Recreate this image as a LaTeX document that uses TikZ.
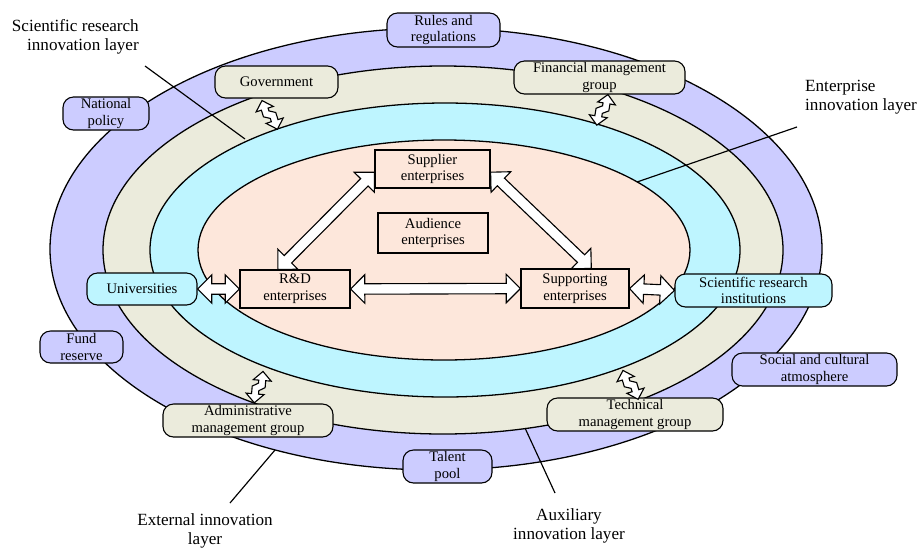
\documentclass[tikz,border=0pt]{standalone}
\usepackage{fontspec}
\setmainfont{Liberation Serif}
\usetikzlibrary{shapes.arrows,calc}

\definecolor{outerfill}{RGB}{204,204,255}
\definecolor{auxfill}{RGB}{235,235,220}
\definecolor{scifill}{RGB}{190,245,255}
\definecolor{entfill}{RGB}{253,231,219}

% block double arrow between two points
\newcommand{\blockarrow}[2]{%
  \path let \p1=($(#2)-(#1)$), \n1={atan2(\y1,\x1)}, \n2={veclen(\x1,\y1)}
    in node[dblarrow, minimum height=\n2, rotate=\n1] at ($(#1)!0.5!(#2)$) {};}

% zigzag double arrow, origin at the upper tip
\newcommand{\zigarrow}[3][]{%
  \begin{scope}[shift={#2}, rotate=#3, #1]
    \draw[zig] (0,0) -- (9,9) -- (3.5,9) -- (3.5,12) -- (9.5,15.5) -- (9.5,23)
      -- (15,23) -- (6,32) -- (-3,23) -- (2.5,23) -- (2.5,19.5) -- (-3.5,16)
      -- (-3.5,9) -- (-9,9) -- cycle;
  \end{scope}}

\begin{document}
\begin{tikzpicture}[x=0.03cm, y=-0.03cm,
    every node/.style={font=\fontsize{12.5}{14.3}\selectfont},
    layerbox/.style={draw, line width=0.95pt, rounded corners=9pt, inner sep=0pt, align=center},
    entbox/.style={draw, line width=0.95pt, fill=entfill, inner sep=0pt, align=center},
    boxsize/.style 2 args={minimum width=#1*0.03cm, minimum height=#2*0.03cm},
    layerlabel/.style={inner sep=0pt, font=\fontsize{14.6}{16.5}\selectfont},
    ring/.style={draw, line width=1.1pt},
    leader/.style={draw, line width=1pt},
    dblarrow/.style={double arrow, draw, fill=white, line width=0.95pt, inner sep=0pt,
        inner ysep=0.14cm, double arrow head extend=0.27cm},
    zig/.style={draw, fill=white, line width=0.95pt, line join=miter}]
    \useasboundingbox (0,0) rectangle (921,549);

    % layers
    \path[ring, fill=outerfill] (436,249) ellipse [x radius=386, y radius=221];
    \path[ring, fill=auxfill] (443,250) ellipse [x radius=340, y radius=184];
    \path[ring, fill=scifill] (445,250) ellipse [x radius=295, y radius=147];
    \path[ring, fill=entfill] (444,250) ellipse [x radius=246, y radius=110];

    % layer labels and leaders
    \node[layerlabel, align=right, anchor=east] (scilab) at (139,37) {Scientific research\\innovation layer};
    \node[layerlabel, align=left, anchor=west] (entlab) at (805,97) {Enterprise\\innovation layer};
    \node[layerlabel, align=center] (extlab) at (205,531) {External innovation\\layer};
    \node[layerlabel, align=center] (auxlab) at (569,526) {Auxiliary\\innovation layer};
    \coordinate (scifoot) at (145,66);  \coordinate (scitip) at (245,139);
    \coordinate (entfoot) at (797,127); \coordinate (enttip) at (637,182);
    \coordinate (extfoot) at (230,503); \coordinate (exttip) at (275,450);
    \coordinate (auxfoot) at (555,493); \coordinate (auxtip) at (525,428);
    \draw[leader] (scifoot) -- (scitip);
    \draw[leader] (entfoot) -- (enttip);
    \draw[leader] (extfoot) -- (exttip);
    \draw[leader] (auxfoot) -- (auxtip);

    % external layer
    \node[layerbox, fill=outerfill, boxsize={113}{34}] (rules) at (443.5,30) {Rules and\\regulations};
    \node[layerbox, fill=outerfill, boxsize={86}{33}] (natpol) at (106,113.5) {National\\policy};
    \node[layerbox, fill=outerfill, boxsize={83}{32}] (fund) at (81.5,347) {Fund\\reserve};
    \node[layerbox, fill=outerfill, boxsize={165}{33}] (social) at (814.5,369.5) {Social and cultural\\atmosphere};
    \node[layerbox, fill=outerfill, boxsize={89}{33}] (talent) at (447.5,466.5) {Talent\\pool};
    % auxiliary layer
    \node[layerbox, fill=auxfill, boxsize={123}{32}] (gov) at (276.5,82) {Government};
    \node[layerbox, fill=auxfill, boxsize={171}{33}] (fin) at (599.5,77.5) {Financial management\\group};
    \node[layerbox, fill=auxfill, boxsize={170}{33}] (admin) at (248,420.5) {Administrative\\management group};
    \node[layerbox, fill=auxfill, boxsize={176}{33}] (tech) at (635,414.5) {Technical\\management group};
    % scientific research layer
    \node[layerbox, fill=scifill, boxsize={110}{32}] (univ) at (142,289) {Universities};
    \node[layerbox, fill=scifill, boxsize={157}{33}] (sri) at (753.5,290.5) {Scientific research\\institutions};
    % enterprise layer
    \node[entbox, boxsize={115}{38}] (sup) at (432.5,169) {Supplier\\enterprises};
    \node[entbox, boxsize={110}{40}] (aud) at (433,233) {Audience\\enterprises};
    \node[entbox, boxsize={110}{38}] (rd) at (295,289) {R\&D\\enterprises};
    \node[entbox, boxsize={108}{39}] (supg) at (575,288.5) {Supporting\\enterprises};

    % arrows
    \coordinate (supL) at ($(sup.south west)!0.42!(sup.north west)$);
    \coordinate (supR) at ($(sup.south east)!0.42!(sup.north east)$);
    \coordinate (rdT) at ($(rd.north west)!0.345!(rd.north east)$);
    \coordinate (supgT) at ($(supg.north east)!0.35!(supg.north west)$);
    \blockarrow{univ.east}{rd.west}
    \blockarrow{rd.east}{supg.west}
    \blockarrow{supg.east}{sri.west}
    \blockarrow{rdT}{supL}
    \blockarrow{supR}{supgT}

    \zigarrow{($(gov.south)+(-14.5,2)$)}{17.6}
    \zigarrow[xscale=-1]{($(fin.south)+(8.5,0)$)}{-9.5}
    \zigarrow[xscale=-1]{($(admin.north)+(15,-32)$)}{-4.9}
    \zigarrow{($(tech.north)+(-12,-27)$)}{17}
\end{tikzpicture}
\end{document}
